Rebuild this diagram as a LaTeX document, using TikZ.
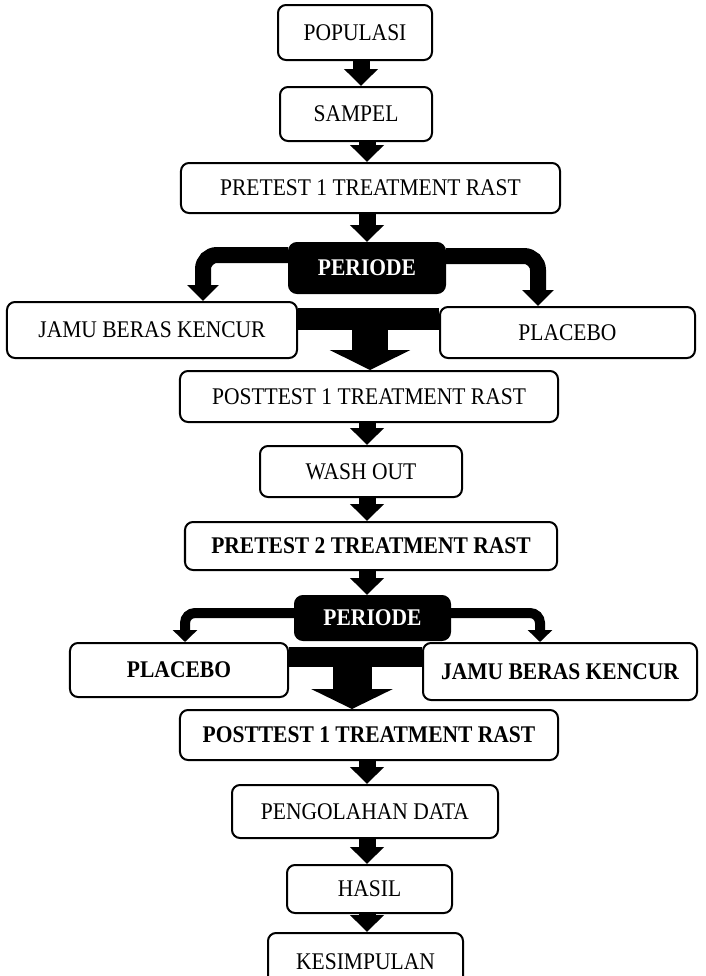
\documentclass[tikz,border=0pt]{standalone}
\usepackage{fontspec}
\setmainfont{Liberation Serif}[FakeStretch=0.9]
\usetikzlibrary{arrows.meta}
\begin{document}
\begin{tikzpicture}[x=1bp,y=-1bp,
  box/.style={draw, line width=2bp, rounded corners=8bp, fill=white, inner sep=0pt,
    font=\fontsize{24}{28}\selectfont, text=black},
  bbox/.style={box, font=\fontsize{24}{28}\selectfont\bfseries},
  dark/.style={box, fill=black, text=white, font=\fontsize{24}{28}\selectfont\bfseries},
  blk/.style={line width=17bp, -{Triangle[width=33bp,length=17bp]}},
  curveA/.style={line width=16bp, rounded corners=14bp, -{Triangle[width=31bp,length=16bp]}},
  curveB/.style={line width=10bp, rounded corners=10bp, -{Triangle[width=24bp,length=12bp]}},
  bandA/.style={line width=22bp},
  bandB/.style={line width=20bp},
  bigA/.style={line width=36bp, -{Triangle[width=80bp,length=20bp]}},
  bigB/.style={line width=39bp, -{Triangle[width=81bp,length=20bp]}}
]
\useasboundingbox (0,0) rectangle (706,976);
\clip (0,0) rectangle (706,976);

% boxes
\node[box, minimum width=154bp, minimum height=55bp] (pop) at (355,32.5) {POPULASI};
\node[box, minimum width=152bp, minimum height=54bp] (sam) at (356,114) {SAMPEL};
\node[box, minimum width=379bp, minimum height=50bp] (pre1) at (370.5,188) {PRETEST 1 TREATMENT RAST};
\node[dark, minimum width=156bp, minimum height=50bp] (per1) at (367,268) {PERIODE};
\node[box, minimum width=290bp, minimum height=56bp] (jamu1) at (152,330) {JAMU BERAS KENCUR};
\node[box, minimum width=255bp, minimum height=51bp] (plac1) at (567.5,332.5) {PLACEBO};
\node[box, minimum width=378bp, minimum height=51bp] (post1) at (369,396.5) {POSTTEST 1 TREATMENT RAST};
\node[box, minimum width=202bp, minimum height=51bp] (wash) at (361,471.5) {WASH OUT};
\node[bbox, minimum width=372bp, minimum height=48bp] (pre2) at (371,546) {PRETEST 2 TREATMENT RAST};
\node[dark, minimum width=155bp, minimum height=44bp] (per2) at (372.5,618) {PERIODE};
\node[bbox, minimum width=218bp, minimum height=54bp] (plac2) at (179,670) {PLACEBO};
\node[bbox, minimum width=274bp, minimum height=57bp] (jamu2) at (560,671.5) {JAMU BERAS KENCUR};
\node[bbox, minimum width=378bp, minimum height=50bp] (post2) at (369,735) {POSTTEST 1 TREATMENT RAST};
\node[box, minimum width=266bp, minimum height=53bp] (olah) at (365,811.5) {PENGOLAHAN DATA};
\node[box, minimum width=165bp, minimum height=48bp] (hasil) at (369.5,889) {HASIL};
\node[box, minimum width=195bp, minimum height=58bp] (kes) at (365.5,962) {KESIMPULAN};

% helper coordinates
\coordinate (ax0) at (361,0);
\coordinate (ax) at (367,0);
\coordinate (c1l) at (203,255);
\coordinate (c1r) at (538,256);
\coordinate (b1) at (370,319);
\coordinate (c2l) at (185,613);
\coordinate (c2r) at (540,613);
\coordinate (b2) at (352,657);

% straight arrows
\draw[blk] (pop.south -| ax0) -- (sam.north -| ax0);
\draw[blk] (sam.south -| ax) -- (pre1.north -| ax);
\draw[blk] (pre1.south -| ax) -- (per1.north -| ax);
\draw[blk] (post1.south -| ax) -- (wash.north -| ax);
\draw[blk] (wash.south -| ax) -- (pre2.north -| ax);
\draw[blk] (pre2.south -| ax) -- (per2.north -| ax);
\draw[blk] (post2.south -| ax) -- (olah.north -| ax);
\draw[blk] (olah.south -| ax) -- (hasil.north -| ax);
\draw[blk] (hasil.south -| ax) -- (kes.north -| ax);

% first period
\draw[curveA] (per1.west |- c1l) -| (jamu1.north -| c1l);
\draw[curveA] (per1.east |- c1r) -| (plac1.north -| c1r);
\draw[bandA] (jamu1.east |- b1) -- (plac1.west |- b1);
\draw[bigA] (b1) -- (post1.north -| b1);

% second period
\draw[curveB] (per2.west |- c2l) -| (plac2.north -| c2l);
\draw[curveB] (per2.east |- c2r) -| (jamu2.north -| c2r);
\draw[bandB] (plac2.east |- b2) -- (jamu2.west |- b2);
\draw[bigB] (b2) -- (post2.north -| b2);
\end{tikzpicture}
\end{document}
